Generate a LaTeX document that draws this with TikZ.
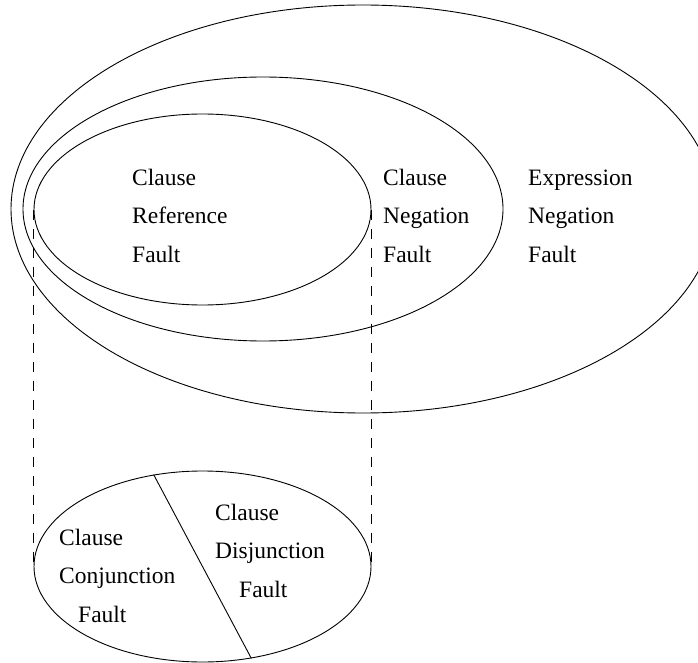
\documentclass[tikz,border=0pt]{standalone}
\usepackage{fontspec}
\setmainfont{Liberation Serif}
\usetikzlibrary{shapes.geometric}
\tikzset{%
  ring/.style={draw, ellipse, line width=0.9pt, inner sep=0pt},% fault class
  faulttext/.style={align=left, anchor=base west, inner sep=0pt,
    font=\fontsize{23.5}{38.5}\selectfont},% class name, placed at last baseline
  guide/.style={line width=0.9pt, dash pattern=on 10pt off 9pt}% projection lines
}
\begin{document}
\begin{tikzpicture}[x=1pt,y=-1pt]
\useasboundingbox (0,0) rectangle (698,663);
\node[ring, minimum width=704, minimum height=408] (outer) at (363,209) {};
\node[ring, minimum width=480, minimum height=264] (mid) at (263,209) {};
\node[ring, minimum width=337, minimum height=191] (inner) at (202.5,209.5) {};
\node[ring, minimum width=337, minimum height=191] (low) at (202.5,566.5) {};

\draw[guide] (inner.west) -- (low.west);
\draw[guide] (inner.east) -- (low.east);
\draw[line width=0.9pt] (low.118) -- (low.-62);

\node[faulttext] (ref) at (132,262) {Clause\\Reference\\Fault};
\node[faulttext] (neg) at (383,262) {Clause\\Negation\\Fault};
\node[faulttext] (expr) at (528,262) {Expression\\Negation\\Fault};
\node[faulttext] (conj) at (59,622) {Clause\\Conjunction\\\hspace*{19pt}Fault};
\node[faulttext] (disj) at (215,597) {Clause\\Disjunction\\\hspace*{24pt}Fault};
\end{tikzpicture}
\end{document}
